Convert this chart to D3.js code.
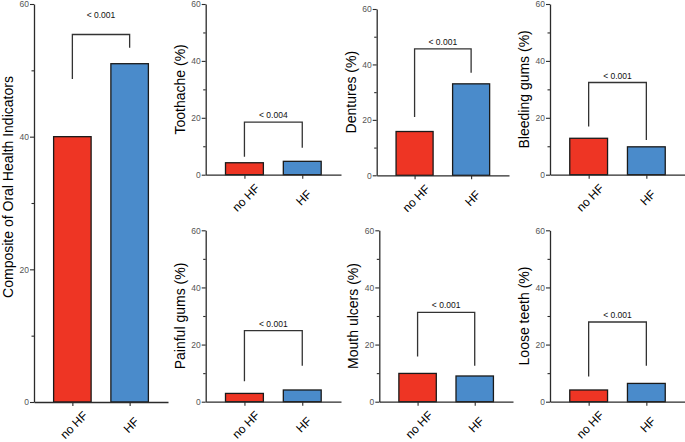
<!DOCTYPE html>
<html>
<head>
<meta charset="utf-8">
<script src="https://cdn.jsdelivr.net/npm/d3@7"></script>
<style>
  body { margin: 0; background: #fff; }
  svg { display: block; font-family: Helvetica, Arial, "Liberation Sans", sans-serif; }
</style>
</head>
<body>
<div id="chart"></div>
<script>
// data
var categories = ["no HF", "HF"];
var titles = ["Composite of Oral Health Indicators", "Toothache (%)", "Dentures (%)", "Bleeding gums (%)",
              "Painful gums (%)", "Mouth ulcers (%)", "Loose teeth (%)"];
var noHF = [40, 4.2, 15.8, 12.8, 2.9, 9.9, 4.1];
var HF   = [51, 4.7, 33.0, 9.8, 4.1, 9.0, 6.4];
var bracketTop  = [55.4, 18.5, 45.6, 32.4, 24.9, 31.3, 27.9];
var bracketLeft = [48.7, 6.3, 21.0, 16.9, 7.2, 15.8, 8.8];
var bracketRight = [53.4, 9.5, 37.0, 12.2, 12.6, 12.6, 12.6];
var pLabels = ["< 0.001", "< 0.004", "< 0.001", "< 0.001", "< 0.001", "< 0.001", "< 0.001"];
var majorTicks = [0, 20, 40, 60];
var minorTicks = [10, 30, 50];

// panel placement
var layout = [
  {x0: 34,    x1: 168, yTop: 4,     yBot: 402,   pGap: 17, titleY: 187},
  {x0: 205.7, x1: 341, yTop: 4,     yBot: 174.7, pGap: 4},
  {x0: 376.7, x1: 509, yTop: 9,     yBot: 175.3, pGap: 4},
  {x0: 550,   x1: 685, yTop: 4,     yBot: 174.7, pGap: 4},
  {x0: 205.7, x1: 341, yTop: 230.3, yBot: 401.7, pGap: 4},
  {x0: 379.3, x1: 513, yTop: 230.3, yBot: 401.7, pGap: 4},
  {x0: 550,   x1: 685, yTop: 230.3, yBot: 401.7, pGap: 4}
];
var colors = {"no HF": "#ee3524", "HF": "#4a8bcb"};
var axisColor = "#2b2b2b";

var svg = d3.select("#chart").append("svg")
    .attr("width", 685)
    .attr("height", 442);

layout.forEach(function(L, i) {
  var x = d3.scalePoint().domain(categories).range([L.x0, L.x1]).padding(0.67);
  var y = d3.scaleLinear().domain([0, 60]).range([L.yBot, L.yTop]);
  var bw = x.step() * 0.655;
  var g = svg.append("g");

  var vals = [{c: "no HF", v: noHF[i]}, {c: "HF", v: HF[i]}];

  // bars
  g.selectAll("rect.bar").data(vals).enter().append("rect")
      .attr("class", "bar")
      .attr("x", function(d) { return x(d.c) - bw / 2; })
      .attr("width", bw)
      .attr("y", function(d) { return y(d.v); })
      .attr("height", function(d) { return y(0) - y(d.v); })
      .attr("fill", function(d) { return colors[d.c]; })
      .attr("stroke", "#1a1a1a")
      .attr("stroke-width", 1.3);

  // y axis
  var ya = g.append("g")
      .attr("transform", "translate(" + L.x0 + ",0)")
      .call(d3.axisLeft(y).tickValues(majorTicks).tickSize(4).tickPadding(1).tickSizeOuter(0));
  ya.select(".domain").attr("stroke", axisColor).attr("stroke-width", 1.3);
  ya.selectAll(".tick line").attr("stroke", axisColor).attr("stroke-width", 1.1);
  ya.selectAll(".tick text").attr("fill", "#555").style("font-size", "8.5px");

  var ym = g.append("g")
      .attr("transform", "translate(" + L.x0 + ",0)")
      .call(d3.axisLeft(y).tickValues(minorTicks).tickSize(2.5).tickFormat(""));
  ym.select(".domain").remove();
  ym.selectAll(".tick line").attr("stroke", axisColor).attr("stroke-width", 1.1);

  // x axis
  var xa = g.append("g")
      .attr("transform", "translate(0," + L.yBot + ")")
      .call(d3.axisBottom(x).tickSize(4).tickSizeOuter(0));
  xa.select(".domain").attr("stroke", axisColor).attr("stroke-width", 1.3);
  xa.selectAll(".tick line").attr("stroke", axisColor).attr("stroke-width", 1.1);
  xa.selectAll(".tick text")
      .attr("y", 0)
      .attr("dy", "0.35em")
      .attr("text-anchor", "middle")
      .attr("transform", "translate(1,23) rotate(-45)")
      .attr("fill", "#000")
      .style("font-size", "12px");

  // y title
  var ty = L.titleY !== undefined ? L.titleY : (L.yTop + L.yBot) / 2;
  g.append("text")
      .attr("transform", "translate(" + (L.x0 - 21) + "," + ty + ") rotate(-90)")
      .attr("text-anchor", "middle")
      .attr("fill", "#000")
      .style("font-size", "14px")
      .text(titles[i]);

  // significance bracket
  var xl = x(categories[0]), xr = x(categories[1]);
  var path = d3.path();
  path.moveTo(xl, y(bracketLeft[i]));
  path.lineTo(xl, y(bracketTop[i]));
  path.lineTo(xr, y(bracketTop[i]));
  path.lineTo(xr, y(bracketRight[i]));
  g.append("path")
      .attr("d", path.toString())
      .attr("fill", "none")
      .attr("stroke", "#333")
      .attr("stroke-width", 1.3);

  g.append("text")
      .attr("x", (xl + xr) / 2)
      .attr("y", y(bracketTop[i]) - L.pGap)
      .attr("text-anchor", "middle")
      .attr("fill", "#111")
      .style("font-size", "8.5px")
      .text(pLabels[i]);
});
</script>
</body>
</html>
